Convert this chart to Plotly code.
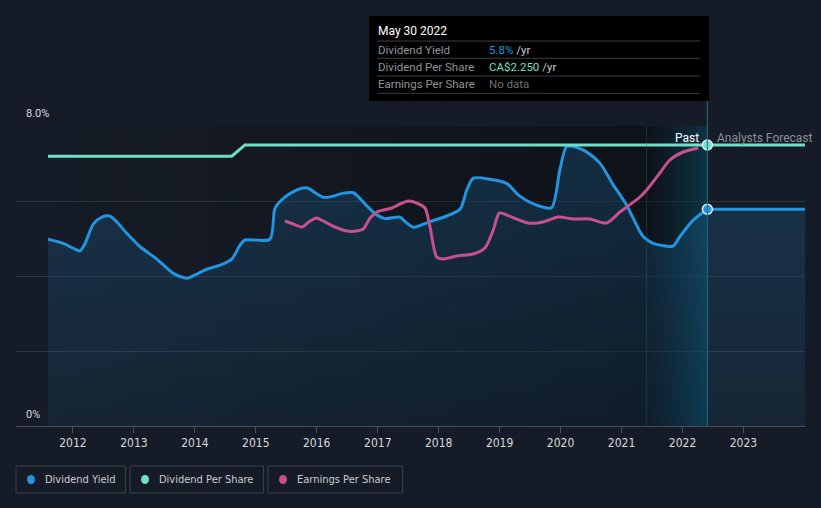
import plotly.graph_objects as go

# ---------------- data ----------------
yield_dates = ["2011-08-05", "2011-11-04", "2012-01-03", "2012-02-13", "2012-03-14", "2012-05-03",
               "2012-06-23", "2012-08-07", "2012-09-10", "2012-11-19", "2013-02-07", "2013-05-18",
               "2013-08-25", "2013-11-13", "2014-01-12", "2014-03-13", "2014-06-01", "2014-08-10",
               "2014-09-29", "2014-10-28", "2015-03-27", "2015-04-26", "2015-06-15", "2015-08-14",
               "2015-10-03", "2015-11-12", "2015-12-22", "2016-02-10", "2016-03-21", "2016-06-09",
               "2016-08-08", "2016-09-07", "2016-10-27", "2016-12-26", "2017-02-14", "2017-05-15",
               "2017-06-14", "2017-08-03", "2017-11-10", "2018-02-18", "2018-05-09", "2018-06-18",
               "2018-07-27", "2018-11-04", "2019-02-12", "2019-05-02", "2019-08-10", "2019-11-08",
               "2019-12-28", "2020-02-06", "2020-04-06", "2020-06-05", "2020-08-24", "2020-11-12",
               "2021-01-31", "2021-04-21", "2021-05-11", "2021-07-09", "2021-11-06", "2021-12-16",
               "2022-03-06", "2022-05-30"]
yield_values = [4.98, 4.87, 4.74, 4.67, 4.87, 5.39,
                5.57, 5.60, 5.49, 5.14, 4.78, 4.45,
                4.07, 3.94, 4.05, 4.18, 4.29, 4.45,
                4.83, 4.96, 4.98, 5.81, 6.07, 6.25,
                6.34, 6.34, 6.22, 6.10, 6.11, 6.21,
                6.22, 6.11, 5.87, 5.63, 5.53, 5.57,
                5.45, 5.30, 5.45, 5.60, 5.78, 6.29,
                6.61, 6.58, 6.47, 6.13, 5.89, 5.82,
                6.83, 7.45, 7.43, 7.31, 7.01, 6.43,
                5.89, 5.18, 5.05, 4.87, 4.80, 5.05,
                5.49, 5.78]

forecast_yield_dates = ["2022-05-30", "2024-01-05"]
forecast_yield_values = [5.78, 5.78]

dps_dates = ["2011-08-05", "2014-08-10", "2014-10-28", "2022-05-30", "2024-01-05"]
dps_values = [2.16, 2.16, 2.25, 2.25, 2.25]

eps_dates = ["2015-06-25", "2015-08-14", "2015-10-03", "2015-11-22", "2016-01-01", "2016-02-20",
             "2016-04-20", "2016-06-29", "2016-08-28", "2016-10-06", "2016-11-16", "2016-12-26",
             "2017-03-26", "2017-05-15", "2017-07-03", "2017-08-22", "2017-10-11", "2017-11-10",
             "2017-12-20", "2018-01-29", "2018-04-19", "2018-07-27", "2018-10-05", "2018-11-24",
             "2018-12-30", "2019-02-12", "2019-06-21", "2019-09-19", "2019-12-18", "2020-03-17",
             "2020-06-25", "2020-10-03", "2020-12-22", "2021-04-21", "2021-05-31", "2021-08-18",
             "2021-10-17", "2022-01-05", "2022-04-05"]
eps_values = [2.05, 2.02, 1.99, 2.05, 2.08, 2.04,
              1.99, 1.95, 1.95, 1.97, 2.08, 2.14,
              2.18, 2.22, 2.25, 2.23, 2.18, 1.99,
              1.69, 1.67, 1.70, 1.72, 1.78, 1.96,
              2.13, 2.11, 2.03, 2.04, 2.09, 2.07,
              2.07, 2.03, 2.14, 2.29, 2.36, 2.53,
              2.66, 2.74, 2.78]

year_ticks = ["2012-01-01", "2013-01-01", "2014-01-01", "2015-01-01", "2016-01-01", "2017-01-01",
              "2018-01-01", "2019-01-01", "2020-01-01", "2021-01-01", "2022-01-01", "2023-01-01"]
year_labels = ["2012", "2013", "2014", "2015", "2016", "2017", "2018", "2019", "2020", "2021", "2022", "2023"]

data_start = "2011-08-05"
past_start = "2021-05-30"
today = "2022-05-30"
x_range = ["2011-01-25", "2024-01-05"]

# ---------------- style ----------------
BG = "#161c27"
BLUE = "#2394df"
TEAL = "#6ee0c8"
PINK = "#c9508f"
GRID = "#2e333c"
TEXT = "#d6d8db"
NARROW = "DejaVu Sans Condensed, Liberation Sans Narrow, Roboto, sans-serif"
SANS = "Roboto, Noto Sans, sans-serif"

L, R, T, B = 16, 16, 126, 82
W, H = 821, 508
PW, PH = W - L - R, H - T - B


def px(xp):
    return (xp - L) / PW


def py(yp):
    return (H - B - yp) / PH


fig = go.Figure()

# dark overlay over the past
fig.add_trace(go.Scatter(
    x=[data_start, past_start, past_start, data_start, data_start],
    y=[0, 0, 8, 8, 0], mode="lines", line=dict(width=0), fill="toself",
    fillgradient=dict(type="horizontal",
                      colorscale=[[0, "rgba(0,0,0,0.02)"], [1, "rgba(0,0,0,0.36)"]]),
    hoverinfo="skip", showlegend=False))

# last-year band
fig.add_trace(go.Scatter(
    x=[past_start, today, today, past_start, past_start],
    y=[0, 0, 8, 8, 0], mode="lines", line=dict(width=0), fill="toself",
    fillgradient=dict(type="horizontal",
                      colorscale=[[0, "rgba(0,0,0,0.36)"], [1, "rgba(0,80,105,0.45)"]]),
    hoverinfo="skip", showlegend=False))

area_grad = dict(type="vertical", start=0, stop=7.5,
                 colorscale=[[0, "rgba(35,148,223,0.08)"], [1, "rgba(35,148,223,0.20)"]])

# dividend yield area (past)
fig.add_trace(go.Scatter(
    x=yield_dates, y=yield_values, mode="lines",
    line=dict(color=BLUE, width=3, shape="spline", smoothing=0.7),
    fill="tozeroy", fillgradient=area_grad,
    hoverinfo="skip", showlegend=False))
# dividend yield (forecast)
fig.add_trace(go.Scatter(
    x=forecast_yield_dates, y=forecast_yield_values, mode="lines",
    line=dict(color=BLUE, width=3),
    fill="tozeroy", fillgradient=area_grad,
    hoverinfo="skip", showlegend=False))

# earnings per share
fig.add_trace(go.Scatter(
    x=eps_dates, y=eps_values, mode="lines", yaxis="y3",
    line=dict(color=PINK, width=3, shape="spline", smoothing=0.7),
    hoverinfo="skip", showlegend=False))

# dividend per share
fig.add_trace(go.Scatter(
    x=dps_dates, y=dps_values, mode="lines", yaxis="y2",
    line=dict(color=TEAL, width=3),
    hoverinfo="skip", showlegend=False))

# markers at today
fig.add_trace(go.Scatter(
    x=[today], y=[yield_values[yield_dates.index(today)]], mode="markers",
    marker=dict(color=BLUE, size=10, line=dict(color="#e8eef2", width=1.5)),
    hoverinfo="skip", showlegend=False))
fig.add_trace(go.Scatter(
    x=[today], y=[dps_values[dps_dates.index(today)]], mode="markers", yaxis="y2",
    marker=dict(color=TEAL, size=10, line=dict(color="#e8eef2", width=1.5)),
    hoverinfo="skip", showlegend=False))

shapes = []
shapes.append(dict(type="line", xref="x", yref="paper", x0=today, x1=today, y0=0, y1=py(100),
                   line=dict(color="#1f6f86", width=1)))
shapes.append(dict(type="line", xref="x", yref="paper", x0=past_start, x1=past_start, y0=0, y1=1,
                   line=dict(color="rgba(40,110,135,0.35)", width=1)))

# tooltip box
shapes.append(dict(type="rect", xref="paper", yref="paper", x0=px(369), x1=px(709), y0=py(101), y1=py(16),
                   fillcolor="#000000", line=dict(width=0), layer="above"))
for yy in [41, 58.3, 76, 93.3]:
    shapes.append(dict(type="line", xref="paper", yref="paper", x0=px(377), x1=px(700), y0=py(yy), y1=py(yy),
                       line=dict(color="#3a3d42", width=1), layer="above"))

# legend boxes
legend_items = [("Dividend Yield", BLUE, 16, 125.5), ("Dividend Per Share", TEAL, 130, 263.5),
                ("Earnings Per Share", PINK, 268, 402.5)]
annotations = []
for name, col, x0, x1 in legend_items:
    shapes.append(dict(type="rect", xref="paper", yref="paper", x0=px(x0), x1=px(x1), y0=py(493), y1=py(466),
                       line=dict(color="#3b404a", width=1), fillcolor="rgba(0,0,0,0)"))
    cx = x0 + 15
    shapes.append(dict(type="circle", xref="paper", yref="paper", x0=px(cx - 4), x1=px(cx + 4),
                       y0=py(479.5 + 4.5), y1=py(479.5 - 4.5), fillcolor=col, line=dict(width=0)))
    annotations.append(dict(xref="paper", yref="paper", x=px(x0 + 27), y=py(479.5), xanchor="left",
                            yanchor="middle", showarrow=False, text=name,
                            font=dict(family=NARROW, size=11, color="#c9ccd1")))

# y labels
annotations.append(dict(xref="paper", yref="paper", x=px(24), y=py(114), xanchor="left", yanchor="middle",
                        showarrow=False, text="8.0%", font=dict(family=SANS, size=11, color=TEXT)))
annotations.append(dict(xref="paper", yref="paper", x=px(24), y=py(414), xanchor="left", yanchor="middle",
                        showarrow=False, text="0%", font=dict(family=SANS, size=11, color=TEXT)))

# past / forecast labels
annotations.append(dict(xref="paper", yref="paper", x=px(701), y=py(138), xanchor="right", yanchor="middle",
                        showarrow=False, text="Past", font=dict(family=SANS, size=12, color="#ffffff")))
annotations.append(dict(xref="paper", yref="paper", x=px(715), y=py(138), xanchor="left", yanchor="middle",
                        showarrow=False, text="Analysts Forecast", font=dict(family=SANS, size=12, color="#8a8f98")))

# tooltip texts
annotations.append(dict(xref="paper", yref="paper", x=px(376), y=py(31), xanchor="left", yanchor="middle",
                        showarrow=False, text="May 30 2022", font=dict(family=SANS, size=12, color="#ffffff")))
rows = [("Dividend Yield", f'<span style="color:{BLUE}">5.8%</span> /yr', 49.5),
        ("Dividend Per Share", f'<span style="color:{TEAL}">CA$2.250</span> /yr', 67),
        ("Earnings Per Share", '<span style="color:#6b7078">No data</span>', 84.5)]
for lab, val, yy in rows:
    annotations.append(dict(xref="paper", yref="paper", x=px(376), y=py(yy), xanchor="left", yanchor="middle",
                            showarrow=False, text=lab, font=dict(family=SANS, size=11.5, color="#8f949b")))
    annotations.append(dict(xref="paper", yref="paper", x=px(487), y=py(yy), xanchor="left", yanchor="middle",
                            showarrow=False, text=val, font=dict(family=SANS, size=11.5, color="#c9ccd1")))

fig.update_layout(
    width=W, height=H, margin=dict(l=L, r=R, t=T, b=B),
    paper_bgcolor=BG, plot_bgcolor=BG,
    showlegend=False,
    xaxis=dict(type="date", range=x_range, tickvals=year_ticks, ticktext=year_labels,
               showgrid=False, zeroline=False, showline=True, linecolor="#4a4f58", linewidth=1,
               ticks="outside", ticklen=6, tickcolor="#4a4f58",
               tickfont=dict(family=NARROW, size=12, color=TEXT)),
    yaxis=dict(range=[0, 8], tickvals=[0, 2, 4, 6, 8], showticklabels=False, showgrid=True,
               gridcolor=GRID, gridwidth=1, zeroline=False, fixedrange=True),
    yaxis2=dict(range=[0, 2.402], overlaying="y", visible=False),
    yaxis3=dict(range=[0, 3.0], overlaying="y", visible=False),
    shapes=shapes, annotations=annotations,
)

fig.write_html("out.html", config={"displayModeBar": False},
               post_script="document.body.style.margin='0';document.body.style.background='#161c27';")
